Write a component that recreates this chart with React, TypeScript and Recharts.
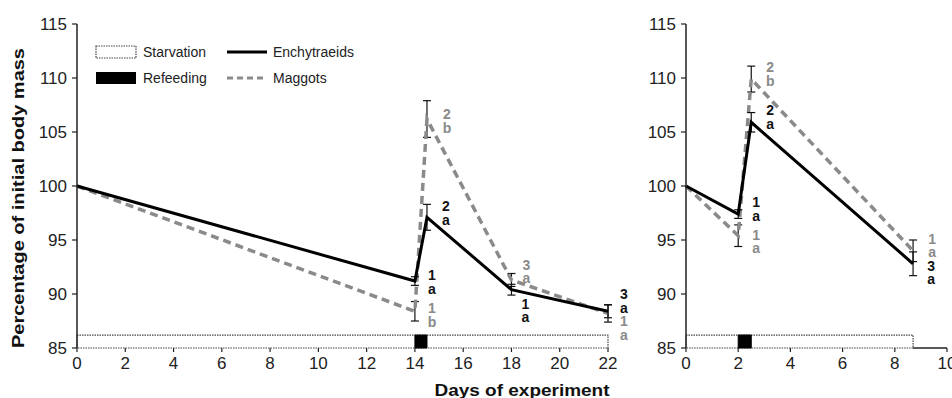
import React from 'react';
import {
  LineChart,
  Line,
  XAxis,
  YAxis,
  ErrorBar,
  ReferenceArea,
  ReferenceLine,
  LabelList,
} from 'recharts';

// left panel (22-day trial)
const leftDays = [0, 14, 14.5, 18, 22];
const leftEnch = [100, 91.2, 97.1, 90.4, 88.4];
const leftEnchErr = [null, 0.4, 1.2, 0.5, 0.6];
const leftMag = [100, 88.4, 106.2, 91.3, 88.2];
const leftMagErr = [null, 0.9, 1.7, 0.6, 0.8];
const leftEnchRank = ['', '1', '2', '1', '3'];
const leftEnchGroup = ['', 'a', 'a', 'a', 'a'];
const leftMagRank = ['', '1', '2', '3', '1'];
const leftMagGroup = ['', 'b', 'b', 'a', 'a'];
const leftStarvation = [0, 22];
const leftRefeeding = [14, 14.5];
const leftTicks = [0, 2, 4, 6, 8, 10, 12, 14, 16, 18, 20, 22];

// right panel (short trial)
const rightDays = [0, 2, 2.5, 8.7];
const rightEnch = [100, 97.4, 105.9, 92.8];
const rightEnchErr = [null, 0.4, 0.9, 1.1];
const rightMag = [100, 95.4, 109.9, 94.0];
const rightMagErr = [null, 1.0, 1.2, 1.0];
const rightEnchRank = ['', '1', '2', '3'];
const rightEnchGroup = ['', 'a', 'a', 'a'];
const rightMagRank = ['', '1', '2', '1'];
const rightMagGroup = ['', 'a', 'b', 'a'];
const rightStarvation = [0, 8.7];
const rightRefeeding = [2, 2.5];
const rightTicks = [0, 2, 4, 6, 8, 10];

const yTicks = [85, 90, 95, 100, 105, 110, 115];
const barTop = 86.2;

// where the letter annotations sit relative to each point (px)
const leftEnchNoteAt = [null, [17, -6], [19, -11], [14, 14], [16, -17]];
const leftMagNoteAt = [null, [17, -3], [20, -5], [15, -15], [16, 8]];
const rightEnchNoteAt = [null, [18, -12], [19, -12], [18, 2]];
const rightMagNoteAt = [null, [18, -1], [19, -12], [19, -12]];

const FONT = '"Liberation Sans", Arial, Helvetica, sans-serif';
const BLACK = '#000';
const GREY = '#8a8a8a';

const buildRows = (days: number[], ench: number[], enchErr: any[], mag: number[], magErr: any[]) =>
  days.map((d, i) => ({ day: d, ench: ench[i], enchErr: enchErr[i], mag: mag[i], magErr: magErr[i] }));

const leftData = buildRows(leftDays, leftEnch, leftEnchErr, leftMag, leftMagErr);
const rightData = buildRows(rightDays, rightEnch, rightEnchErr, rightMag, rightMagErr);

// rank digit above the group letter, one text block per point
const note = (ranks: string[], groups: string[], at: any[], color: string) => (props: any) => {
  const idx = props.index;
  if (!ranks[idx] || !at[idx]) return null;
  const x = props.x ?? props.viewBox?.x;
  const y = props.y ?? props.viewBox?.y;
  const [dx, dy] = at[idx];
  const cx = x + dx;
  return (
    <text
      key={`n-${idx}`}
      x={cx}
      y={y + dy + 5}
      fill={color}
      fontSize={14}
      fontWeight="bold"
      fontFamily={FONT}
      textAnchor="middle"
    >
      <tspan x={cx}>{ranks[idx]}</tspan>
      <tspan x={cx} dy={13.5}>{groups[idx]}</tspan>
    </text>
  );
};

const tickStyle = { fontSize: 17, fill: '#222', fontFamily: FONT };

type PanelProps = {
  data: any[];
  width: number;
  left: number;
  yWidth: number;
  right: number;
  xMax: number;
  xTicks: number[];
  starvation: number[];
  refeeding: number[];
  notes: { ench: any; mag: any };
};

const Panel: React.FC<PanelProps> = ({ data, width, left, yWidth, right, xMax, xTicks, starvation, refeeding, notes }) => (
  <div style={{ position: 'absolute', left, top: 0 }}>
    <LineChart width={width} height={398} data={data} margin={{ top: 24, right, bottom: 20, left: 0 }}>
      <XAxis
        type="number"
        dataKey="day"
        domain={[0, xMax]}
        ticks={xTicks}
        interval={0}
        axisLine={false}
        tickLine={{ stroke: '#222', strokeWidth: 1.2 }}
        tickSize={4}
        tickMargin={5}
        tick={tickStyle}
        height={30}
      />
      <YAxis
        type="number"
        domain={[85, 115]}
        ticks={yTicks}
        interval={0}
        width={yWidth}
        axisLine={{ stroke: '#222', strokeWidth: 1.5 }}
        tickLine={{ stroke: '#222', strokeWidth: 1.2 }}
        tickSize={5}
        tickMargin={5}
        tick={tickStyle}
      />
      <ReferenceArea
        x1={starvation[0]}
        x2={starvation[1]}
        y1={85}
        y2={barTop}
        fill="#fff"
        fillOpacity={1}
        stroke="#444"
        strokeWidth={1.2}
        strokeDasharray="1.5 1"
      />
      <ReferenceArea
        x1={refeeding[0]}
        x2={refeeding[1]}
        y1={85}
        y2={barTop}
        fill="#000"
        fillOpacity={1}
        stroke="#000"
      />
      {starvation[1] < xMax && (
        <ReferenceLine
          segment={[{ x: starvation[1], y: 85 }, { x: xMax, y: 85 }]}
          stroke="#222"
          strokeWidth={1.5}
        />
      )}
      <Line
        dataKey="mag"
        stroke={GREY}
        strokeWidth={3.5}
        strokeDasharray="8 5"
        dot={false}
        isAnimationActive={false}
      >
        <ErrorBar dataKey="magErr" direction="y" width={4} stroke="#111" strokeWidth={1.2} />
        <LabelList dataKey="mag" content={notes.mag} />
      </Line>
      <Line dataKey="ench" stroke={BLACK} strokeWidth={3} dot={false} isAnimationActive={false}>
        <ErrorBar dataKey="enchErr" direction="y" width={4} stroke="#111" strokeWidth={1.2} />
        <LabelList dataKey="ench" content={notes.ench} />
      </Line>
    </LineChart>
  </div>
);

export default function App() {
  return (
    <div style={{ position: 'absolute', left: 0, top: 0, width: 952, height: 398, background: '#fff', overflow: 'hidden' }}>
      <Panel
        data={leftData}
        width={630}
        left={0}
        yWidth={77}
        right={22}
        xMax={22}
        xTicks={leftTicks}
        starvation={leftStarvation}
        refeeding={leftRefeeding}
        notes={{
          ench: note(leftEnchRank, leftEnchGroup, leftEnchNoteAt, '#111'),
          mag: note(leftMagRank, leftMagGroup, leftMagNoteAt, GREY),
        }}
      />
      <Panel
        data={rightData}
        width={352}
        left={600}
        yWidth={86}
        right={5}
        xMax={10}
        xTicks={rightTicks}
        starvation={rightStarvation}
        refeeding={rightRefeeding}
        notes={{
          ench: note(rightEnchRank, rightEnchGroup, rightEnchNoteAt, '#111'),
          mag: note(rightMagRank, rightMagGroup, rightMagNoteAt, GREY),
        }}
      />
      <svg width={952} height={398} style={{ position: 'absolute', left: 0, top: 0, pointerEvents: 'none' }}>
        <g fontFamily={FONT} fontSize={14} fill="#222">
          <rect x={96} y={46} width={40} height={12} fill="#fff" stroke="#444" strokeWidth={1.2} strokeDasharray="1.5 1" />
          <text x={143} y={52} dominantBaseline="central">Starvation</text>
          <rect x={96} y={72} width={40} height={12} fill="#000" />
          <text x={143} y={78} dominantBaseline="central">Refeeding</text>
          <line x1={227} y1={52} x2={267} y2={52} stroke={BLACK} strokeWidth={3} />
          <text x={273} y={52} dominantBaseline="central">Enchytraeids</text>
          <line x1={227} y1={78} x2={267} y2={78} stroke={GREY} strokeWidth={3} strokeDasharray="6 4" />
          <text x={273} y={78} dominantBaseline="central">Maggots</text>
        </g>
        <text
          x={522}
          y={396}
          textAnchor="middle"
          fontFamily={FONT}
          fontWeight="bold"
          fontSize={16.5}
          fill="#111"
          textLength={175}
          lengthAdjust="spacingAndGlyphs"
        >
          Days of experiment
        </text>
        <text
          transform="translate(24 198) rotate(-90)"
          textAnchor="middle"
          fontFamily={FONT}
          fontWeight="bold"
          fontSize={16.5}
          fill="#111"
          textLength={300}
          lengthAdjust="spacingAndGlyphs"
        >
          Percentage of initial body mass
        </text>
      </svg>
    </div>
  );
}
